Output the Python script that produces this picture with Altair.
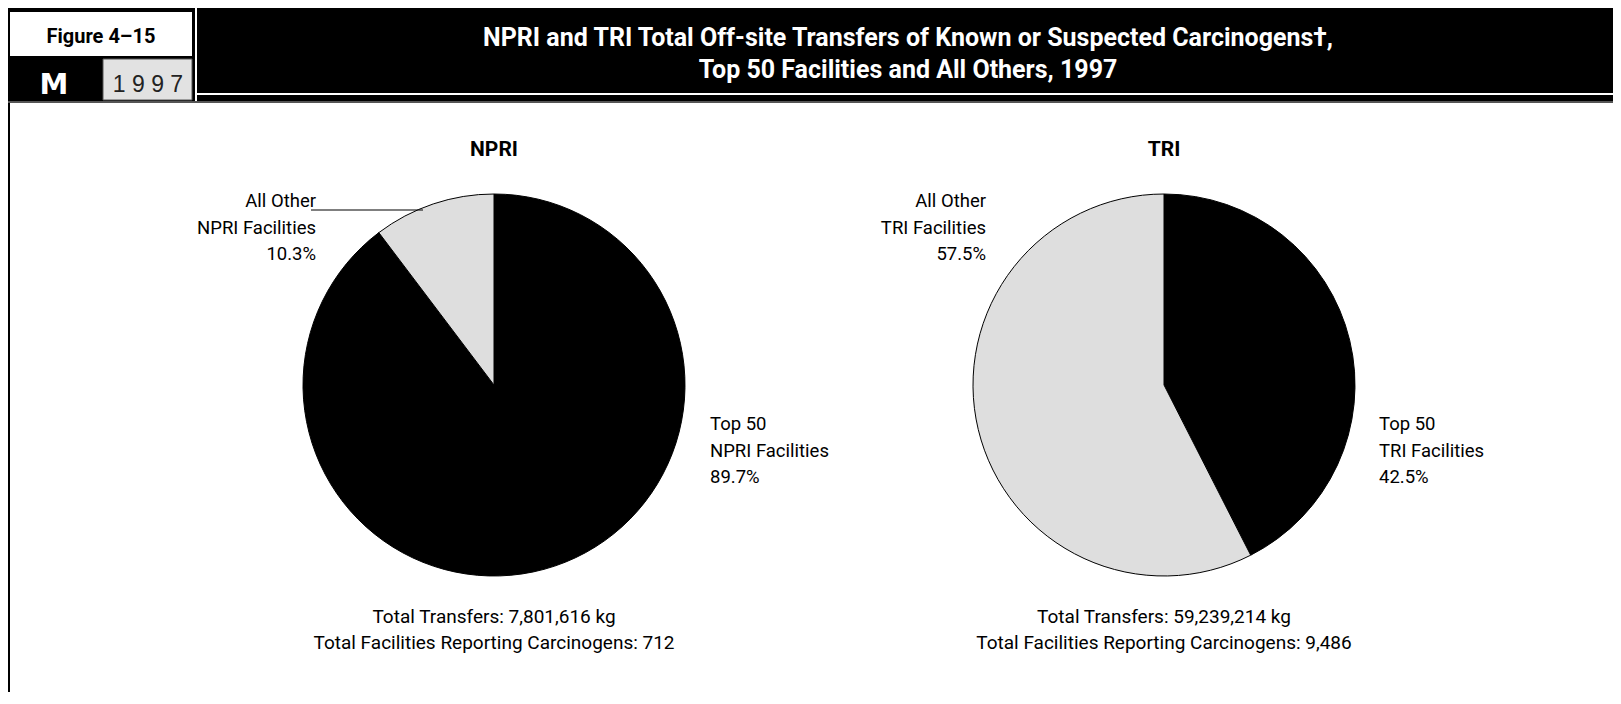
import altair as alt
import pandas as pd

# ---- data ----
categories = ["Top 50", "All Other"]
npri_values = [89.7, 10.3]
tri_values = [42.5, 57.5]
npri_total_kg = "7,801,616"
tri_total_kg = "59,239,214"
npri_facilities = "712"
tri_facilities = "9,486"

fig_label = "Figure 4–15"
year_label = "1997"
title_lines = ["NPRI and TRI Total Off-site Transfers of Known or Suspected Carcinogens†,",
               "Top 50 Facilities and All Others, 1997"]

W, H = 1605, 684
FONT = "Roboto"
FONT_B = "Roboto"

dummy = pd.DataFrame({"d": [0]})


def rect(x, x2, y, y2, color, stroke=None):
    kw = dict(color=color)
    if stroke:
        kw.update(stroke=stroke, strokeWidth=1)
    return alt.Chart(dummy).mark_rect(**kw).encode(
        x=alt.value(x), x2=alt.value(x2), y=alt.value(y), y2=alt.value(y2))


def text(df, x, y, size, align="center", weight="normal", color="black", font=FONT, lh=None):
    kw = dict(align=align, baseline="middle", fontSize=size, fontWeight=weight,
              color=color, font=font, lineBreak="\n")
    if lh:
        kw["lineHeight"] = lh
    return alt.Chart(df).mark_text(**kw).encode(
        x=alt.value(x), y=alt.value(y), text="t:N")


def pie(values, cx, cy):
    df = pd.DataFrame({"category": categories, "value": values, "order": [0, 1]})
    return alt.Chart(df).mark_arc(radius=191, stroke="black", strokeWidth=1).encode(
        theta=alt.Theta("value:Q", stack=True),
        order=alt.Order("order:Q"),
        color=alt.Color("category:N",
                        scale=alt.Scale(domain=categories, range=["black", "#dedede"]),
                        legend=None),
        x=alt.value(cx), y=alt.value(cy))


def one(s):
    return pd.DataFrame({"t": [s]})


layers = [
    # header decorations
    rect(0, 187, 0, 95, "black"),
    rect(2, 184, 4, 48, "white"),
    rect(95, 184, 51, 92, "#e2e2e2", stroke="#555555"),
    rect(189, W, 0, 85, "black"),
    rect(189, W, 87, 93, "black"),
    rect(0, W, 93, 95, "#555555"),
    rect(0, 2, 95, H, "black"),
    text(one(fig_label), 93, 29, 20, weight="bold", font=FONT_B),
    text(one("M"), 46, 77, 29, weight="bold", color="white", font="DejaVu Sans"),
    text(one(" ".join(year_label)), 140, 77, 23, color="#222222", font="Liberation Sans"),
    text(one("\n".join(title_lines)), 900, 30, 25, weight="bold", color="white",
         font=FONT_B, lh=32),
    # pies
    pie(npri_values, 486, 377),
    pie(tri_values, 1156, 377),
    # pie titles
    text(one("NPRI"), 486, 142, 21, weight="bold", font=FONT_B),
    text(one("TRI"), 1156, 142, 21, weight="bold", font=FONT_B),
    # labels
    text(one(f"All Other\nNPRI Facilities\n{npri_values[1]}%"), 308, 193, 18.5, align="right", lh=26.5),
    text(one(f"All Other \nTRI Facilities\n{tri_values[1]}%"), 978, 193, 18.5, align="right", lh=26.5),
    text(one(f"Top 50\nNPRI Facilities\n{npri_values[0]}%"), 702, 416, 18.5, align="left", lh=26.5),
    text(one(f"Top 50\nTRI Facilities\n{tri_values[0]}%"), 1371, 416, 18.5, align="left", lh=26.5),
    alt.Chart(dummy).mark_rule(color="black", strokeWidth=1.2).encode(
        x=alt.value(303), x2=alt.value(415), y=alt.value(202)),
    # totals
    text(one(f"Total Transfers: {npri_total_kg} kg\nTotal Facilities Reporting Carcinogens: {npri_facilities}"),
         486, 609, 19, lh=26),
    text(one(f"Total Transfers: {tri_total_kg} kg\nTotal Facilities Reporting Carcinogens: {tri_facilities}"),
         1156, 609, 19, lh=26),
]

chart = alt.layer(*layers).properties(
    width=W, height=H, autosize=alt.AutoSizeParams(type="none"), padding=0
).configure_view(strokeWidth=0)

chart.save("out.html", embed_options={"renderer": "svg", "actions": False})
